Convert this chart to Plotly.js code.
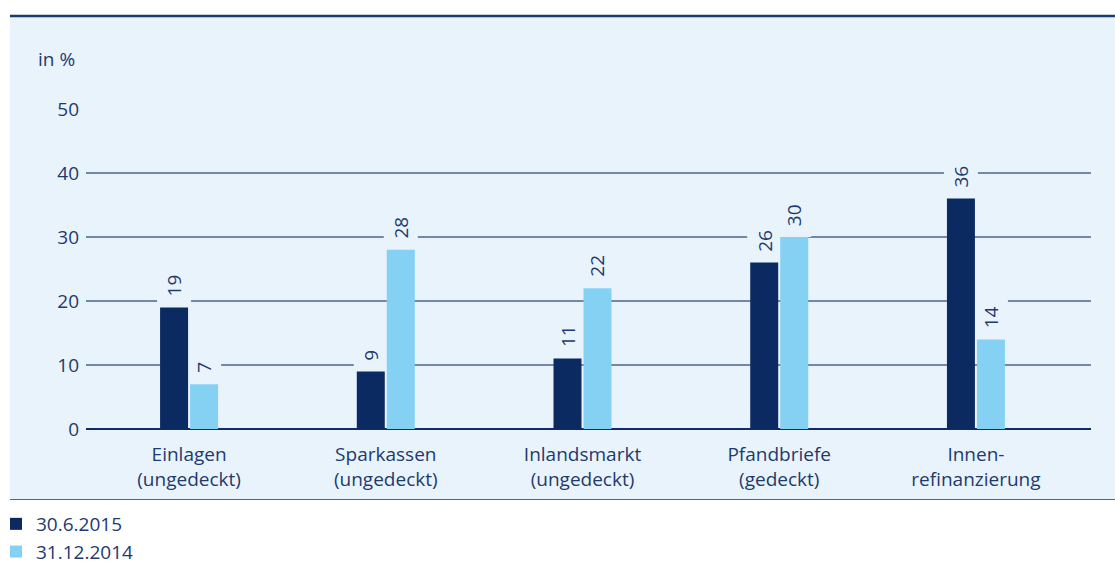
<!DOCTYPE html>
<html><head><meta charset="utf-8">
<script src="https://cdn.plot.ly/plotly-3.0.1.min.js"></script>
<style>html,body{margin:0;padding:0;background:#fff;} #chart{width:1115px;height:566px;}</style>
</head><body><div id="chart"></div>
<script>
// ---- data ----
const categories = ["Einlagen<br>(ungedeckt)", "Sparkassen<br>(ungedeckt)", "Inlandsmarkt<br>(ungedeckt)", "Pfandbriefe<br>(gedeckt)", "Innen-<br>refinanzierung"];
const seriesNames = ["30.6.2015", "31.12.2014"];
const values2015 = [19, 9, 11, 26, 36];
const values2014 = [7, 28, 22, 30, 14];
const yTickValues = [0, 10, 20, 30, 40, 50];
const unitLabel = "in %";

// ---- styles ----
const PANEL = "#e9f3fc", DARK = "#0b2a62", LIGHT = "#84d1f4", TEXT = "#1e3a6e", GRID = "#7188a7";
const FONT = "Open Sans";
const FS = 19;
const W = 1115, H = 566, L = 86, R = 24, T = 109, B = 137;
const pw = W - L - R, ph = H - T - B;
const pxX = v => (v - L) / pw;
const pxY = v => (H - B - v) / ph;
const BAR_OFFSET = 15;

const series = [
  {name: seriesNames[0], values: values2015, color: DARK, off: -BAR_OFFSET},
  {name: seriesNames[1], values: values2014, color: LIGHT, off: BAR_OFFSET}
];

const traces = series.map((s, k) => ({
  type: "bar", x: categories, y: s.values, name: s.name,
  legendgroup: "g" + k,
  marker: {color: s.color, line: {width: 0}},
  hoverinfo: "none"
}));

const annotations = [];
const shapes = [
  {type: "rect", xref: "paper", yref: "paper", layer: "below",
   x0: pxX(10), x1: pxX(1115), y0: pxY(499), y1: pxY(16),
   fillcolor: PANEL, line: {width: 0}},
  {type: "line", xref: "paper", yref: "paper", layer: "above",
   x0: pxX(10), x1: pxX(1115), y0: pxY(16), y1: pxY(16),
   line: {color: "#1b3a72", width: 2.5}},
  {type: "line", xref: "paper", yref: "paper", layer: "above",
   x0: pxX(10), x1: pxX(1115), y0: pxY(499.5), y1: pxY(499.5),
   line: {color: "#4a6693", width: 1}}
];

series.forEach(s => {
  s.values.forEach((v, i) => {
    const label = String(v);
    annotations.push({
      xref: "x", yref: "y", x: i, y: v, xshift: s.off, yshift: 9,
      text: label, textangle: -90, showarrow: false,
      xanchor: "center", yanchor: "bottom",
      font: {family: FONT, size: FS, color: TEXT}
    });
    shapes.push({
      type: "rect", layer: "between", xref: "x", yref: "y",
      xsizemode: "pixel", ysizemode: "pixel",
      xanchor: i, yanchor: v,
      x0: s.off - 17, x1: s.off + 17,
      y0: 0, y1: 12 + label.length * 11 + 7,
      fillcolor: PANEL, line: {width: 0}
    });
  });
});

annotations.push({
  xref: "paper", yref: "paper", x: 0, y: pxY(59), xshift: -9,
  xanchor: "right", yanchor: "middle", showarrow: false,
  text: unitLabel, font: {family: FONT, size: FS, color: TEXT}
});

const layout = {
  width: W, height: H,
  margin: {l: L, r: R, t: T, b: B, pad: 0, autoexpand: false},
  paper_bgcolor: "#ffffff", plot_bgcolor: "rgba(0,0,0,0)",
  font: {family: FONT, size: FS, color: TEXT},
  barmode: "group", bargap: 0.695, bargroupgap: 0.067,
  showlegend: true,
  legend: {
    orientation: "v", xref: "paper", yref: "paper",
    x: pxX(-4), xanchor: "left", y: pxY(505), yanchor: "top",
    font: {family: FONT, size: FS, color: TEXT},
    bgcolor: "rgba(0,0,0,0)", borderwidth: 0, tracegroupgap: 0,
    itemwidth: 30
  },
  xaxis: {
    type: "category", range: [-0.524, 4.585], fixedrange: true,
    showgrid: false, showline: false, zeroline: false, ticks: "",
    ticklabelstandoff: 12, automargin: false,
    tickfont: {family: FONT, size: FS, color: TEXT}
  },
  yaxis: {
    range: [0, 50], tickvals: yTickValues, fixedrange: true,
    showgrid: true, gridcolor: GRID, gridwidth: 1.3,
    zeroline: true, zerolinecolor: "#0f2d66", zerolinewidth: 2.2,
    showline: false, ticks: "", ticklabelstandoff: 6, automargin: false,
    tickfont: {family: FONT, size: FS, color: TEXT}
  },
  shapes: shapes,
  annotations: annotations
};

Plotly.newPlot("chart", traces, layout, {displayModeBar: false, staticPlot: true});
</script>
</body></html>
